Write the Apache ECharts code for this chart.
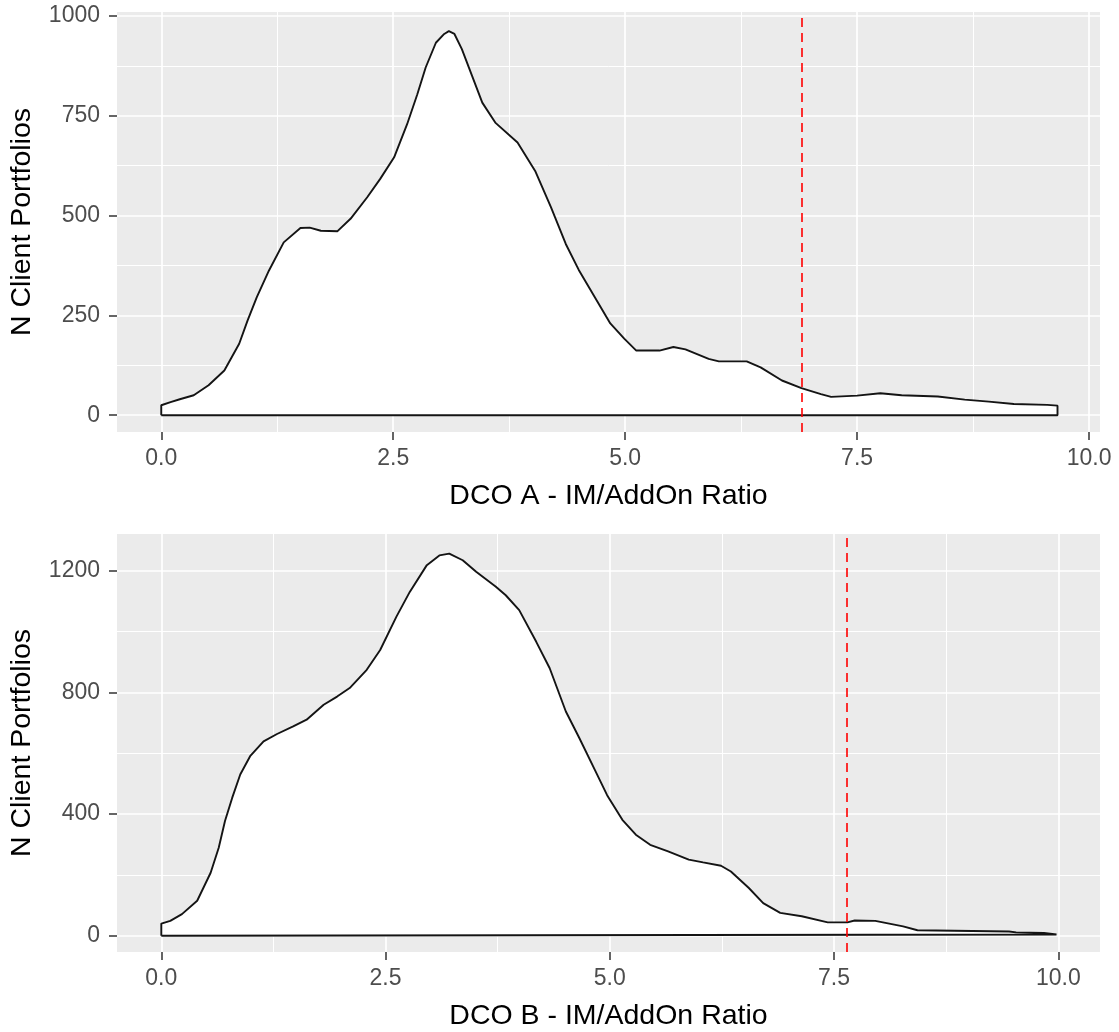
<!DOCTYPE html>
<html>
<head>
<meta charset="utf-8">
<script src="https://cdn.jsdelivr.net/npm/echarts@6/dist/echarts.min.js"></script>
<style>
html,body{margin:0;padding:0;background:#fff;}
#chart{width:1119px;height:1032px;}
</style>
</head>
<body>
<div id="chart"></div>
<script>
// ---- Data ----
// Panel A: DCO A density outline
var xA = [0, 0.1, 0.2, 0.35, 0.51, 0.68, 0.84, 0.93, 1.03, 1.16, 1.32, 1.50, 1.60, 1.72, 1.90, 2.04, 2.22, 2.36, 2.51, 2.65, 2.76, 2.85, 2.96, 3.05, 3.10, 3.16, 3.24, 3.35, 3.46, 3.60, 3.84, 4.03, 4.20, 4.36, 4.50, 4.67, 4.84, 4.99, 5.12, 5.37, 5.52, 5.65, 5.90, 6.01, 6.31, 6.46, 6.69, 6.90, 7.11, 7.22, 7.50, 7.75, 7.98, 8.37, 8.66, 8.92, 9.19, 9.55, 9.66];
var yA = [25, 33, 40, 50, 75, 112, 179, 237, 296, 362, 433, 469, 470, 462, 461, 492, 546, 592, 646, 729, 804, 871, 933, 955, 962, 955, 917, 850, 783, 733, 683, 612, 521, 429, 364, 297, 230, 192, 162, 162, 171, 165, 141, 135, 135, 120, 87, 68, 53, 46, 49, 55, 50, 47, 39, 34, 28, 26, 24];
var vlineA = 6.90;

// Panel B: DCO B density outline
var xB = [0, 0.10, 0.23, 0.40, 0.55, 0.64, 0.71, 0.79, 0.88, 0.99, 1.14, 1.29, 1.47, 1.62, 1.81, 1.96, 2.10, 2.29, 2.44, 2.62, 2.77, 2.96, 3.10, 3.21, 3.36, 3.51, 3.73, 3.84, 3.99, 4.18, 4.33, 4.51, 4.66, 4.84, 4.97, 5.14, 5.29, 5.45, 5.65, 5.88, 6.04, 6.24, 6.35, 6.55, 6.71, 6.90, 7.14, 7.43, 7.65, 7.73, 7.96, 8.27, 8.43, 9.45, 9.53, 9.84, 9.98];
var yB = [40, 49, 71, 115, 207, 289, 377, 453, 530, 590, 639, 663, 688, 710, 759, 786, 814, 874, 939, 1048, 1130, 1218, 1250, 1256, 1234, 1196, 1147, 1119, 1070, 966, 879, 737, 650, 541, 462, 381, 332, 299, 277, 250, 241, 230, 211, 157, 107, 75, 64, 44, 44, 50, 49, 31, 18, 14, 11, 9, 4];
var vlineB = 7.64;

// Tick values
var xTicks = [0, 2.5, 5, 7.5, 10];
var xMinor = [1.25, 3.75, 6.25, 8.75];
var yTicksA = [0, 250, 500, 750, 1000];
var yMinorA = [125, 375, 625, 875];
var yTicksB = [0, 400, 800, 1200];
var yMinorB = [200, 600, 1000];

var xTitleA = 'DCO A - IM/AddOn Ratio';
var xTitleB = 'DCO B - IM/AddOn Ratio';
var yTitle = 'N Client Portfolios';

// ---- Build ----
var FONT = '"Liberation Sans", Arial, sans-serif';

function outline(xs, ys) {
  var pts = [[xs[0], 0]];
  for (var i = 0; i < xs.length; i++) pts.push([xs[i], ys[i]]);
  pts.push([xs[xs.length - 1], 0]);
  pts.push([xs[0], 0]);
  return pts;
}

function gridLines(major, minor, xMaj, xMin) {
  var d = [];
  minor.forEach(function (v) { d.push({ yAxis: v, lineStyle: { width: 1.0 } }); });
  xMin.forEach(function (v) { d.push({ xAxis: v, lineStyle: { width: 1.0 } }); });
  major.forEach(function (v) { d.push({ yAxis: v, lineStyle: { width: 1.7 } }); });
  xMaj.forEach(function (v) { d.push({ xAxis: v, lineStyle: { width: 1.7 } }); });
  return d;
}

function xAxisCfg(idx, min, max, title) {
  return {
    type: 'value', gridIndex: idx, min: min, max: max, position: 'bottom',
    axisLine: { show: false, onZero: false },
    splitLine: { show: false },
    axisTick: { show: true, customValues: xTicks, length: 8, lineStyle: { color: '#333333', width: 1.5 } },
    axisLabel: {
      customValues: xTicks, margin: 15, color: '#4D4D4D', fontSize: 23, fontFamily: FONT,
      formatter: function (v) { return Number(v).toFixed(1); }
    },
    name: title, nameLocation: 'middle', nameGap: 50,
    nameTextStyle: { color: '#000000', fontSize: 28.5, fontFamily: FONT }
  };
}

function yAxisCfg(idx, min, max, ticks) {
  return {
    type: 'value', gridIndex: idx, min: min, max: max, position: 'left',
    axisLine: { show: false, onZero: false },
    splitLine: { show: false },
    axisTick: { show: true, customValues: ticks, length: 8, lineStyle: { color: '#333333', width: 1.5 } },
    axisLabel: {
      customValues: ticks, margin: 17, color: '#4D4D4D', fontSize: 23, fontFamily: FONT,
      formatter: function (v) { return String(Math.round(v)); }
    },
    name: yTitle, nameLocation: 'middle', nameRotate: 90, nameGap: 80,
    nameTextStyle: { color: '#000000', fontSize: 28.5, fontFamily: FONT }
  };
}

function panelSeries(idx, xs, ys, vline, yMaj, yMin) {
  return [
    {
      type: 'line', xAxisIndex: idx, yAxisIndex: idx, data: [], z: 1, silent: true,
      markLine: {
        z: 1, silent: true, symbol: ['none', 'none'], label: { show: false }, animation: false,
        lineStyle: { color: '#FFFFFF', type: 'solid' },
        data: gridLines(yMaj, yMin, xTicks, xMinor)
      }
    },
    {
      type: 'line', xAxisIndex: idx, yAxisIndex: idx, z: 3, silent: true,
      data: outline(xs, ys), showSymbol: false, smooth: false,
      lineStyle: { color: '#141414', width: 1.9 },
      areaStyle: { color: '#FFFFFF', opacity: 1 }
    },
    {
      type: 'line', xAxisIndex: idx, yAxisIndex: idx, data: [], z: 6, silent: true,
      markLine: {
        z: 6, silent: true, symbol: ['none', 'none'], label: { show: false }, animation: false,
        lineStyle: { color: '#FF0000', type: [9, 6], width: 1.6 },
        data: [{ xAxis: vline }]
      }
    }
  ];
}

var chart = echarts.init(document.getElementById('chart'), null, { renderer: 'canvas' });
chart.setOption({
  animation: false,
  backgroundColor: '#FFFFFF',
  grid: [
    { left: 117, top: 12, width: 983, height: 420, show: true, backgroundColor: '#EBEBEB', borderWidth: 0 },
    { left: 117, top: 534, width: 983, height: 419, show: true, backgroundColor: '#EBEBEB', borderWidth: 0 }
  ],
  xAxis: [
    xAxisCfg(0, -0.477, 10.118, xTitleA),
    xAxisCfg(1, -0.494, 10.465, xTitleB)
  ],
  yAxis: [
    yAxisCfg(0, -42, 1010, yTicksA),
    yAxisCfg(1, -53.4, 1320.3, yTicksB)
  ],
  series: [].concat(
    panelSeries(0, xA, yA, vlineA, yTicksA, yMinorA),
    panelSeries(1, xB, yB, vlineB, yTicksB, yMinorB)
  )
});
</script>
</body>
</html>
